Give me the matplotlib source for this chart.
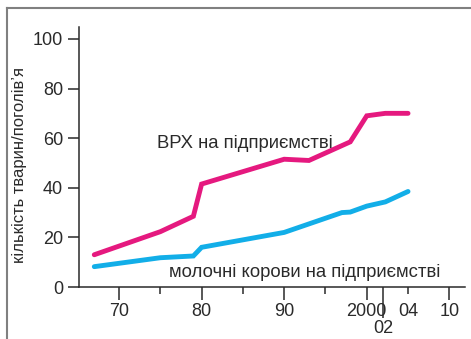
import numpy as np
import matplotlib
matplotlib.use("Agg")
import matplotlib.pyplot as plt
from matplotlib.lines import Line2D

plt.rcParams['font.family'] = ['Liberation Sans', 'DejaVu Sans']

# Cattle headcount on enterprises
cattle_years = [1967, 1975, 1979, 1980, 1990, 1993, 1998, 2000, 2002, 2004]
cattle_values = [13, 22.3, 28.5, 41.5, 51.5, 51, 58.5, 69, 70, 70]

# Dairy cows on enterprises
cows_years = [1967, 1975, 1979, 1980, 1990, 1997, 1998, 2000, 2002, 2004]
cows_values = [8.2, 11.8, 12.5, 16, 22, 30, 30.2, 32.6, 34.3, 38.5]

major_ticks = [1970, 1980, 1990, 2000, 2010]
major_labels = ['70', '80', '90', '2000', '10']
minor_ticks = [1975, 1985, 1995, 2004]
minor_labels = ['', '', '', '04']
extra_tick = [2002]
extra_label = ['02']
y_ticks = [0, 20, 40, 60, 80, 100]

cattle_label = 'ВРХ на підприємстві'
cows_label = 'молочні корови на підприємстві'
y_label = 'кількість тварин/поголів’я'

PINK = '#E5197F'
BLUE = '#12AEE8'
INK = '#2a2a2a'

# Uneven time axis: the years after 2000 get stretched slots
real_knots = [1900, 2000, 2002, 2004, 2010, 2100]
slot_knots = [1900, 2000, 2002.25, 2005, 2010, 2100]


def fwd(x):
    return np.interp(x, real_knots, slot_knots)


def inv(x):
    return np.interp(x, slot_knots, real_knots)


fig = plt.figure(figsize=(4.71, 3.39), dpi=100)
ax = fig.add_axes([79 / 471, 1 - 287 / 339, (465 - 79) / 471, (287 - 27) / 339])
ax.set_xscale('function', functions=(fwd, inv))

ax.plot(cattle_years, cattle_values, color=PINK, lw=3.5, solid_capstyle='round',
        solid_joinstyle='miter', clip_on=False)
ax.plot(cows_years, cows_values, color=BLUE, lw=3.5, solid_capstyle='round',
        solid_joinstyle='miter', clip_on=False)

ax.set_xlim(1965.15, 2011.9)
ax.set_ylim(0, 104.8)

for side in ('top', 'right'):
    ax.spines[side].set_visible(False)
for side in ('left', 'bottom'):
    ax.spines[side].set_color(INK)
    ax.spines[side].set_linewidth(1.1)

ax.set_yticks(y_ticks)
ax.set_yticklabels([str(v) for v in y_ticks])
ax.tick_params(axis='y', direction='out', length=8, width=1.1, color=INK,
               labelsize=13, labelcolor=INK, pad=3.5)

ax.set_xticks(major_ticks)
ax.set_xticklabels(major_labels)
ax.set_xticks(minor_ticks, minor=True)
ax.set_xticklabels(minor_labels, minor=True)
ax.tick_params(axis='x', which='major', direction='out', length=9.5, width=1.1,
               color=INK, labelsize=13, labelcolor=INK, pad=1.8)
ax.tick_params(axis='x', which='minor', direction='out', length=5, width=1.1,
               color=INK, labelsize=13, labelcolor=INK, pad=6.3)

sec = ax.secondary_xaxis('bottom', functions=(lambda v: v, lambda v: v))
sec.set_xticks(extra_tick)
sec.set_xticklabels(extra_label)
sec.spines['bottom'].set_visible(False)
sec.tick_params(axis='x', direction='out', length=22, width=1.1, color=INK,
                labelsize=13, labelcolor=INK, pad=1.5)

ax.text(1974.6, 56, cattle_label, fontsize=13.3, color=INK, ha='left', va='baseline')
ax.text(1976.05, 4.0, cows_label, fontsize=13.3, color=INK, ha='left', va='baseline')

fig.text(20 / 471, 1 - 165 / 339, y_label, rotation=90, fontsize=12, color=INK,
         ha='center', va='center')

# Page frame lines along the top and left edge
frame = dict(color='#808080', lw=1.5, transform=fig.transFigure)
fig.add_artist(Line2D([7 / 471, 1.0], [1 - 8 / 339, 1 - 8 / 339], **frame))
fig.add_artist(Line2D([7 / 471, 7 / 471], [1 - 8 / 339, 0.0], **frame))

fig.savefig('out.png', dpi=100)
